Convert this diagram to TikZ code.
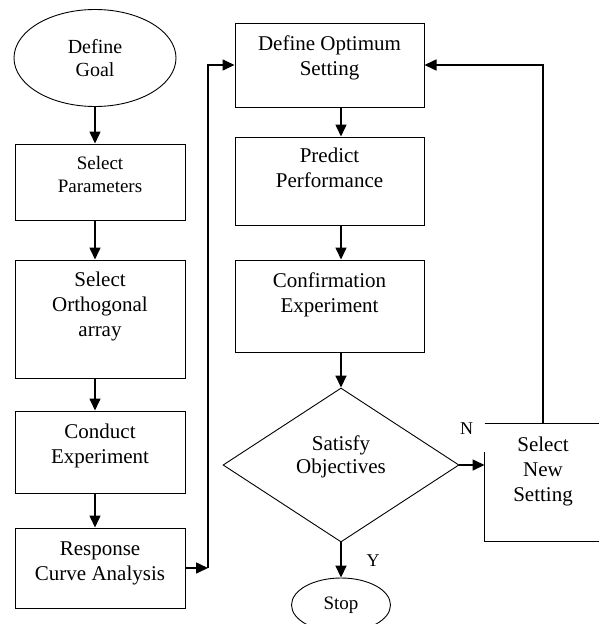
\documentclass[tikz,border=0pt]{standalone}
\usepackage{fontspec}
\setmainfont{Liberation Serif}
\usetikzlibrary{positioning,arrows.meta,shapes,calc}

\begin{document}
\begin{tikzpicture}[
    x=1pt, y=-1pt,
    >={Triangle[length=12pt,width=11pt]},
    stepbox/.style={rectangle, draw, line width=1pt, align=center, inner sep=0pt, font=\fontsize{21}{25}\selectfont},
    term/.style={ellipse, draw, line width=0.9pt, align=center, inner sep=0pt},
    decide/.style={diamond, draw, line width=0.9pt, align=center, inner sep=0pt, font=\fontsize{21}{23}\selectfont},
    flow/.style={->, line width=1.6pt},
    lbl/.style={font=\fontsize{18}{20}\selectfont}
]
\useasboundingbox (0,0) rectangle (598,624);
% left column
\node[term, minimum width=162pt, minimum height=97pt, font=\fontsize{20}{23}\selectfont] (goal) at (95,58) {Define\\Goal};
\node[stepbox, minimum width=170pt, minimum height=76pt, text depth=15pt, font=\fontsize{19}{23}\selectfont] (params) at (100,182) {Select\\Parameters};
\node[stepbox, minimum width=170pt, minimum height=118pt, text depth=29pt] (ortho) at (100,319) {Select\\Orthogonal\\array};
\node[stepbox, minimum width=170pt, minimum height=82pt, text depth=17pt] (conduct) at (100,452) {Conduct\\Experiment};
\node[stepbox, minimum width=170pt, minimum height=80pt, text depth=14pt] (response) at (100,568) {Response\\Curve Analysis};

% right column
\node[stepbox, minimum width=189pt, minimum height=84pt, text depth=19pt] (optimum) at (329.5,65) {Define Optimum\\Setting};
\node[stepbox, minimum width=189pt, minimum height=88pt, text depth=27pt] (predict) at (329.5,181) {Predict\\Performance};
\node[stepbox, minimum width=189pt, minimum height=92pt, text depth=27pt] (confirm) at (329.5,306) {Confirmation\\Experiment};
\node[decide, minimum width=236pt, minimum height=154pt, aspect=1.53, text depth=21pt] (satisfy) at (341,465) {Satisfy\\Objectives};
\node[term, minimum width=99pt, minimum height=54pt, font=\fontsize{19}{23}\selectfont] (stop) at (341,605) {Stop};

% new setting box, open at the corner by the N
\node[stepbox, draw=none, minimum width=116pt, minimum height=117pt, text depth=27pt] (newset) at (543,482.5) {Select\\New\\Setting};
\draw[line width=1pt] (newset.north west) -- (newset.north east) -- (newset.south east)
    -- (newset.south west) -- ($(newset.north west)+(0,28)$);
\node[lbl] (no) at (466.5,429) {N};
\node[lbl] (yes) at (373,561) {Y};

% arrows
\draw[flow] (goal.south) -- (params.north -| goal.south);
\draw[flow] (params.south -| goal.south) -- (ortho.north -| goal.south);
\draw[flow] (ortho.south -| goal.south) -- (conduct.north -| goal.south);
\draw[flow] (conduct.south -| goal.south) -- (response.north -| goal.south);

\coordinate (bend) at (208,568);
\draw[flow] (response.east) -- (bend);
\draw[flow] (bend) |- (optimum.west);

\draw[flow] (optimum.south -| satisfy.north) -- (predict.north -| satisfy.north);
\draw[flow] (predict.south -| satisfy.north) -- (confirm.north -| satisfy.north);
\draw[flow] (confirm.south -| satisfy.north) -- (satisfy.north);
\draw[flow] (satisfy.south) -- (stop.north);
\draw[flow] (satisfy.east) -- (satisfy.east -| newset.west);
\draw[flow] (newset.north) |- (optimum.east);
\end{tikzpicture}
\end{document}
